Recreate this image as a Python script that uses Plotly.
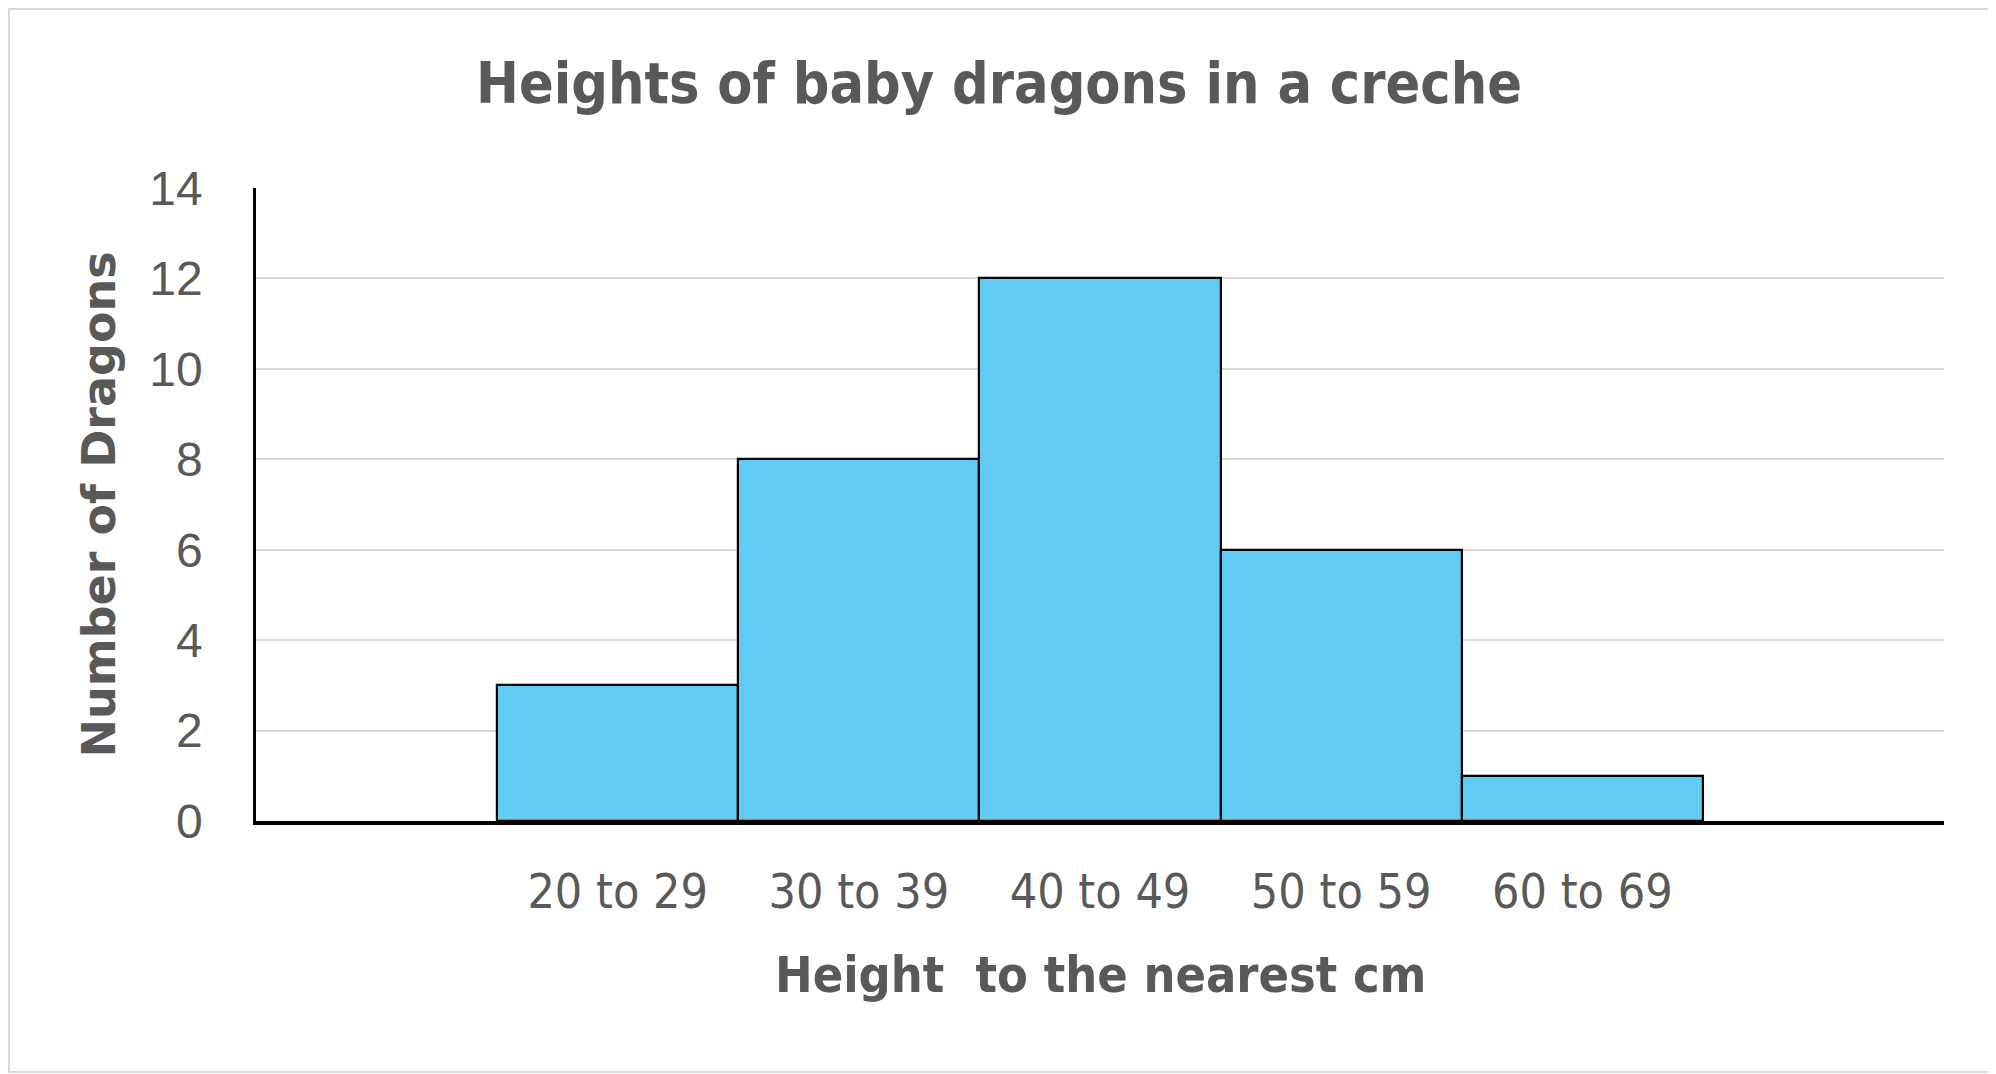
import plotly.graph_objects as go

categories = ["20 to 29", "30 to 39", "40 to 49", "50 to 59", "60 to 69"]
counts = [3, 8, 12, 6, 1]
y_ticks = [0, 2, 4, 6, 8, 10, 12, 14]

title_text = "Heights of baby dragons in a creche"
x_title = "Height&nbsp; to the nearest cm"
y_title = "Number of Dragons"

grey = "#595959"
narrow = "Liberation Sans Narrow, DejaVu Sans Condensed, Arial Narrow, sans-serif"

xpos = list(range(len(categories)))

fig = go.Figure()
fig.add_trace(go.Bar(
    x=xpos, y=counts,
    marker=dict(color="#61CBF3", line=dict(color="black", width=2.2)),
    width=1.0,
    hoverinfo="skip",
))

W, H = 1996, 1074
ml, mt = 248, 180
pw, ph = 1688, 633
mr = W - ml - pw
mb = H - mt - ph
bottom = mt + ph

fig.update_layout(
    width=W, height=H,
    margin=dict(l=ml, r=mr, t=mt, b=mb),
    paper_bgcolor="white", plot_bgcolor="white",
    showlegend=False,
    bargap=0,
    title=dict(text="<b>" + title_text + "</b>", x=991 / W, xanchor="center",
               y=1 - 75 / H, yanchor="middle", yref="container",
               font=dict(family=narrow, size=57, color=grey)),
    xaxis=dict(
        range=[-1.5, 5.5],
        tickmode="array", tickvals=xpos, ticktext=categories,
        showgrid=False, zeroline=False,
        showline=True, linecolor="black", linewidth=3.5,
        ticks="", ticklabelstandoff=26,
        tickfont=dict(family=narrow, size=48, color=grey),
        fixedrange=True,
    ),
    yaxis=dict(
        range=[0, 14],
        tickmode="array", tickvals=y_ticks,
        showgrid=True, gridcolor="#D9D9D9", gridwidth=2,
        zeroline=False,
        showline=True, linecolor="black", linewidth=2.5,
        ticks="", ticklabelstandoff=41,
        tickfont=dict(family="Liberation Sans, Arial, sans-serif", size=48, color=grey),
        fixedrange=True,
    ),
    annotations=[
        dict(text="<b>" + x_title + "</b>", xref="paper", yref="paper",
             x=0.5, y=(bottom - 967) / ph, xanchor="center", yanchor="middle",
             showarrow=False, font=dict(family=narrow, size=50, color=grey)),
        dict(text="<b>" + y_title + "</b>", xref="paper", yref="paper",
             x=(90 - ml) / pw, y=0.5, xanchor="center", yanchor="middle",
             textangle=-90, showarrow=False,
             font=dict(family="DejaVu Sans, Verdana, sans-serif", size=46, color=grey)),
    ],
    shapes=[
        dict(type="rect", xref="paper", yref="paper",
             x0=(1 - ml) / pw, x1=(W - 6 - ml) / pw,
             y0=(bottom - (H - 10)) / ph, y1=(bottom - 1) / ph,
             line=dict(color="#D9D9D9", width=2), fillcolor="rgba(0,0,0,0)",
             layer="below"),
    ],
)

fig.write_html("out.html")
